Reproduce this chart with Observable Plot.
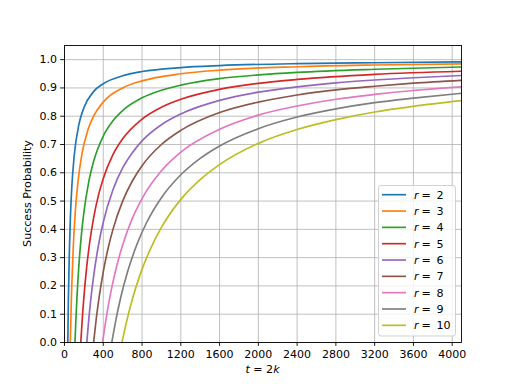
<!DOCTYPE html>
<html><head><meta charset="utf-8">
<script src="https://cdn.jsdelivr.net/npm/d3@7"></script>
<script src="https://cdn.jsdelivr.net/npm/@observablehq/plot@0.6"></script>
<style>html,body{margin:0;padding:0;background:#fff;}</style>
</head><body><div id="chart"></div>
<script>
// Series: [t, success probability]
const r2 = [[34,0],[40,0.15],[50,0.32],[60,0.433],[75,0.547],[100,0.66],[150,0.773],[200,0.83],[300,0.887],[400,0.915],[600,0.943],[800,0.958],[1200,0.972],[1600,0.979],[2400,0.986],[3200,0.989],[4096,0.992]];
const r3 = [[60,0],[66,0.091],[75,0.2],[90,0.333],[110,0.455],[140,0.571],[180,0.667],[240,0.75],[300,0.8],[400,0.85],[600,0.9],[800,0.925],[1200,0.95],[1600,0.963],[2400,0.975],[3200,0.981],[4096,0.985]];
const r4 = [[108,0],[118,0.085],[130,0.169],[150,0.28],[175,0.383],[200,0.46],[250,0.568],[300,0.64],[400,0.73],[500,0.784],[600,0.82],[800,0.865],[1000,0.892],[1200,0.91],[1600,0.933],[2000,0.946],[2400,0.955],[3200,0.966],[4096,0.974]];
const r5 = [[168,0],[185,0.092],[205,0.18],[230,0.27],[260,0.354],[300,0.44],[350,0.52],[400,0.58],[500,0.664],[600,0.72],[800,0.79],[1000,0.832],[1200,0.86],[1600,0.895],[2000,0.916],[2400,0.93],[3200,0.948],[4096,0.959]];
const r6 = [[230,0],[250,0.08],[275,0.164],[300,0.233],[350,0.343],[400,0.425],[500,0.54],[600,0.617],[700,0.671],[800,0.713],[1000,0.77],[1200,0.808],[1600,0.856],[2000,0.885],[2400,0.904],[2800,0.918],[3200,0.928],[3600,0.936],[4096,0.944]];
const r7 = [[300,0],[330,0.091],[360,0.167],[400,0.25],[450,0.333],[500,0.4],[600,0.5],[700,0.571],[800,0.625],[1000,0.7],[1200,0.75],[1600,0.813],[2000,0.85],[2400,0.875],[2800,0.893],[3200,0.906],[3600,0.917],[4096,0.927]];
const r8 = [[393,0],[430,0.086],[470,0.164],[520,0.244],[600,0.345],[700,0.439],[800,0.509],[1000,0.607],[1200,0.673],[1600,0.754],[2000,0.804],[2400,0.836],[2800,0.86],[3200,0.877],[3600,0.891],[4096,0.904]];
const r9 = [[488,0],[530,0.079],[580,0.159],[650,0.249],[750,0.349],[850,0.426],[1000,0.512],[1200,0.593],[1400,0.651],[1600,0.695],[2000,0.756],[2400,0.797],[2800,0.826],[3200,0.848],[3600,0.864],[4096,0.881]];
const r10 = [[593,0],[640,0.073],[700,0.153],[780,0.24],[880,0.326],[1000,0.407],[1200,0.506],[1400,0.576],[1600,0.629],[2000,0.704],[2400,0.753],[2800,0.788],[3200,0.815],[3600,0.835],[4096,0.855]];

const seriesLabels = ["2","3","4","5","6","7","8","9","10"];
const seriesData = [r2, r3, r4, r5, r6, r7, r8, r9, r10];
const colors = ["#1f77b4","#ff7f0e","#2ca02c","#d62728","#9467bd","#8c564b","#e377c2","#7f7f7f","#bcbd22"];
const xTicks = [0,400,800,1200,1600,2000,2400,2800,3200,3600,4000];
const yTicks = [0,0.1,0.2,0.3,0.4,0.5,0.6,0.7,0.8,0.9,1.0];

const rows = seriesData.flatMap((s, i) => s.map(([t, p]) => ({t, p, r: seriesLabels[i]})));

const W = 512, H = 384, ML = 64, MR = 51, MT = 45, MB = 42;

const svg = Plot.plot({
  width: W, height: H,
  marginLeft: ML, marginRight: MR, marginTop: MT, marginBottom: MB,
  style: {fontFamily: "DejaVu Sans", fontSize: "11px", background: "#fff", color: "#000", overflow: "visible"},
  x: {domain: [0, 4096]},
  y: {domain: [0, 1.05]},
  color: {domain: seriesLabels, range: colors},
  marks: [
    Plot.gridX(xTicks, {stroke: "#b0b0b0", strokeOpacity: 1, strokeWidth: 0.8}),
    Plot.gridY(yTicks, {stroke: "#b0b0b0", strokeOpacity: 1, strokeWidth: 0.8}),
    Plot.line(rows, {x: "t", y: "p", z: "r", stroke: "r", strokeWidth: 1.67, curve: "monotone-x", clip: true}),
    Plot.frame({stroke: "#000", strokeWidth: 0.9}),
    Plot.axisX(xTicks, {tickSize: 3.9, tickPadding: 3.5, label: null, tickFormat: d => String(d), strokeWidth: 0.9}),
    Plot.axisY(yTicks, {tickSize: 3.9, tickPadding: 3.5, label: null, tickFormat: d3.format(".1f"), strokeWidth: 0.9})
  ]
});

const s = d3.select(svg);
const f = "DejaVu Sans";
// y label
s.append("text")
  .attr("transform", `translate(${28},${(MT + H - MB) / 2}) rotate(-90)`)
  .attr("text-anchor", "middle").attr("dominant-baseline", "middle")
  .attr("font-family", f).attr("font-size", 11.1).attr("fill", "#000")
  .text("Success Probability");
// x label: t = 2k
const xl = s.append("text")
  .attr("x", (ML + W - MR) / 2).attr("y", 373)
  .attr("text-anchor", "middle")
  .attr("font-family", f).attr("font-size", 11.1).attr("fill", "#000");
xl.append("tspan").attr("font-style", "italic").text("t");
xl.append("tspan").text(" = 2");
xl.append("tspan").attr("font-style", "italic").text("k");

// legend
const lg = s.append("g").attr("text-anchor", "start");
const lx = 378.5, ly = 185.5, lw = 77, lh = 150.5;
lg.append("rect").attr("x", lx).attr("y", ly).attr("width", lw).attr("height", lh)
  .attr("rx", 2.5).attr("fill", "#fff").attr("fill-opacity", 0.8)
  .attr("stroke", "#cccccc").attr("stroke-width", 0.9);
seriesLabels.forEach((lab, i) => {
  const cy = 194.7 + i * 16.33;
  lg.append("line").attr("x1", 382).attr("x2", 406).attr("y1", cy).attr("y2", cy)
    .attr("stroke", colors[i]).attr("stroke-width", 1.67);
  const tx = lg.append("text").attr("x", 414).attr("y", cy + 4)
    .attr("text-anchor", "start")
    .attr("font-family", f).attr("font-size", 11.1).attr("fill", "#000");
  tx.append("tspan").attr("font-style", "italic").text("r");
  tx.append("tspan").attr("x", 421.5).text("=");
  lg.append("text").attr("x", 436.5).attr("y", cy + 4)
    .attr("text-anchor", "start")
    .attr("font-family", f).attr("font-size", 11.1).attr("fill", "#000")
    .text(lab);
});

document.getElementById("chart").appendChild(svg);
</script></body></html>
